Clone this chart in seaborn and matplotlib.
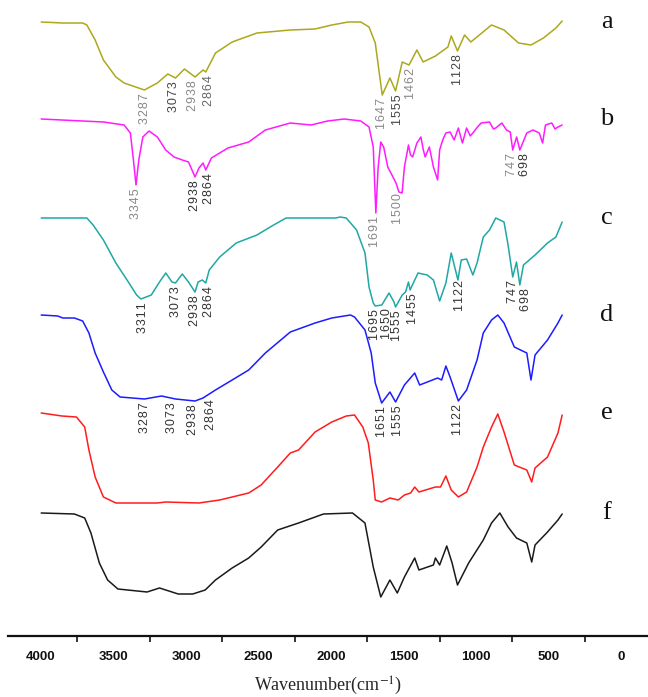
import matplotlib
matplotlib.use("Agg")
import matplotlib.pyplot as plt
import seaborn as sns
import pandas as pd
import numpy as np

# === FTIR spectra (wavenumber cm-1, transmittance a.u.) ===
wn_a = [3999, 3850, 3713, 3684, 3627, 3570, 3484, 3427, 3287, 3198, 3126, 3073, 3011, 2938, 2883, 2864,
        2797, 2682, 2511, 2281, 2110, 1995, 1881, 1795, 1738, 1695, 1647, 1594, 1555, 1509, 1462, 1408,
        1365, 1280, 1194, 1171, 1128, 1079, 1036, 893, 807, 707, 621, 535, 449, 406]
t_a = [614, 613, 613, 611, 596, 576, 559, 553, 546, 553, 562, 558, 567, 559, 566, 564,
       583, 594, 603, 606, 607, 611, 614, 614, 609, 593, 541, 558, 545, 574, 571, 586,
       574, 580, 589, 600, 585, 601, 594, 611, 606, 593, 591, 598, 608, 615]

wn_b = [3999, 3713, 3570, 3427, 3384, 3363, 3345, 3326, 3298, 3255, 3198, 3140, 3083, 3026, 2983, 2938,
        2911, 2883, 2864, 2825, 2711, 2568, 2453, 2281, 2138, 2024, 1909, 1795, 1738, 1709, 1691, 1675,
        1657, 1637, 1609, 1580, 1552, 1532, 1510, 1494, 1466, 1452, 1437, 1408, 1380, 1365, 1351, 1322,
        1294, 1265, 1251, 1230, 1208, 1179, 1151, 1122, 1094, 1065, 1040, 1022, 990, 965, 907, 880,
        864, 822, 790, 764, 747, 720, 698, 650, 607, 564, 541, 521, 478, 455, 435, 406]
t_b = [517, 515, 514, 511, 503, 476, 451, 476, 499, 505, 499, 486, 479, 476, 474, 459,
       468, 473, 466, 478, 488, 494, 506, 513, 511, 515, 517, 515, 509, 489, 423, 469,
       494, 489, 469, 461, 453, 444, 443, 469, 491, 481, 479, 493, 499, 487, 479, 489,
       469, 456, 486, 496, 503, 504, 496, 508, 493, 508, 500, 503, 509, 513, 514, 507,
       508, 513, 506, 504, 486, 499, 486, 503, 506, 503, 493, 511, 513, 507, 509, 511]

wn_c = [3999, 3684, 3641, 3570, 3484, 3398, 3341, 3311, 3240, 3183, 3140, 3097, 3073, 3026, 2983, 2938,
        2917, 2888, 2864, 2840, 2768, 2654, 2511, 2396, 2310, 1967, 1938, 1895, 1824, 1766, 1738, 1709,
        1695, 1650, 1600, 1566, 1555, 1509, 1486, 1466, 1455, 1400, 1337, 1294, 1251, 1208, 1171, 1125,
        1102, 1065, 1022, 993, 950, 907, 864, 807, 779, 747, 721, 698, 673, 593, 507, 449, 406]
t_c = [418, 418, 411, 396, 373, 354, 341, 337, 341, 354, 363, 354, 353, 362, 354, 344,
       354, 356, 353, 366, 379, 393, 401, 411, 418, 418, 419, 418, 406, 383, 349, 333,
       330, 331, 343, 334, 329, 341, 344, 354, 346, 363, 361, 356, 335, 353, 383, 356,
       376, 377, 361, 373, 399, 406, 418, 414, 391, 359, 374, 351, 371, 381, 393, 399, 414]

wn_d = [3999, 3885, 3850, 3770, 3713, 3670, 3627, 3570, 3512, 3455, 3287, 3169, 3073, 2938, 2883, 2797,
        2682, 2568, 2453, 2281, 2110, 1995, 1866, 1838, 1766, 1723, 1695, 1651, 1594, 1555, 1494, 1423,
        1389, 1265, 1237, 1208, 1179, 1122, 1065, 993, 950, 893, 850, 807, 736, 650, 621, 593, 507, 435, 406]
t_d = [321, 320, 318, 318, 315, 303, 283, 264, 246, 239, 237, 240, 237, 235, 238, 246,
       256, 266, 283, 304, 313, 318, 321, 319, 306, 283, 253, 233, 244, 234, 251, 263,
       251, 258, 256, 270, 259, 235, 246, 276, 303, 316, 321, 313, 289, 283, 256, 281, 296, 313, 321]

wn_e = [3999, 3856, 3756, 3699, 3670, 3627, 3570, 3484, 3198, 3140, 2911, 2768, 2568, 2482, 2368, 2281,
        2224, 2110, 1995, 1895, 1838, 1781, 1743, 1709, 1695, 1652, 1594, 1537, 1494, 1451, 1423, 1394,
        1280, 1245, 1208, 1171, 1122, 1065, 993, 950, 893, 850, 807, 736, 650, 616, 593, 507, 435, 406]
t_e = [223, 220, 219, 209, 186, 159, 139, 133, 133, 134, 133, 136, 143, 151, 169, 183,
       186, 204, 214, 220, 221, 209, 193, 156, 136, 134, 138, 136, 141, 143, 149, 144,
       149, 149, 160, 146, 139, 144, 169, 189, 209, 222, 204, 171, 166, 154, 168, 179, 203, 221]

wn_f = [3999, 3770, 3699, 3656, 3598, 3541, 3470, 3269, 3183, 3054, 2954, 2868, 2797, 2682, 2568, 2482,
        2368, 2224, 2052, 1852, 1766, 1709, 1657, 1594, 1543, 1494, 1423, 1394, 1294, 1280, 1251, 1202,
        1165, 1128, 1051, 950, 893, 836, 779, 721, 650, 616, 593, 507, 435, 406]
t_f = [123, 122, 118, 103, 73, 56, 47, 44, 48, 42, 42, 46, 56, 68, 78, 89,
       106, 113, 122, 123, 113, 69, 39, 56, 43, 59, 78, 66, 71, 78, 71, 90,
       73, 51, 73, 96, 113, 123, 109, 98, 93, 74, 91, 104, 116, 122]

# peak annotations: value, and where along x the text column sits
peaks_a = [3287, 3073, 2938, 2864, 1647, 1555, 1462, 1128]
text_x_a = [3283, 3083, 2954, 2840, 1652, 1537, 1451, 1122]
peaks_b = [3345, 2938, 2864, 1691, 1500, 747, 698]
text_x_b = [3346, 2940, 2840, 1695, 1537, 752, 660]
peaks_c = [3311, 3073, 2938, 2864, 1695, 1650, 1555, 1455, 1122, 747, 698]
text_x_c = [3298, 3069, 2940, 2840, 1695, 1617, 1543, 1437, 1114, 742, 656]
peaks_d = [3287, 3073, 2938, 2864, 1651, 1555, 1122]
text_x_d = [3283, 3097, 2954, 2831, 1646, 1537, 1122]

names = ["a", "b", "c", "d", "e", "f"]
colors = ["#aca81c", "#ff1aff", "#1fa8a4", "#1c1cff", "#ff1c1c", "#1a1a1a"]
spectra = [(wn_a, t_a), (wn_b, t_b), (wn_c, t_c), (wn_d, t_d), (wn_e, t_e), (wn_f, t_f)]
peak_sets = [(peaks_a, text_x_a), (peaks_b, text_x_b), (peaks_c, text_x_c),
             (peaks_d, text_x_d), ([], []), ([], [])]
peak_gray = {
    "a": ["#888", "#444", "#888", "#666", "#888", "#444", "#888", "#444"],
    "b": ["#888", "#333", "#333", "#888", "#888", "#888", "#333"],
}

sns.set_style("white")
plt.rcParams["mathtext.fontset"] = "stix"

fig = plt.figure(figsize=(6.48, 6.97), dpi=100)
ax = fig.add_axes([8 / 648, 61 / 697, 640 / 648, 636 / 697])

hs = "\u200a"
for name, col, (wn, t), (peaks, tx) in zip(names, colors, spectra, peak_sets):
    df = pd.DataFrame({"wn": wn, "t": t})
    sns.lineplot(data=df, x="wn", y="t", color=col, lw=1.1, sort=False,
                 estimator=None, ax=ax, legend=False)
    xs = np.array(wn[::-1], dtype=float)
    ys = np.array(t[::-1], dtype=float)
    grays = peak_gray.get(name, ["#333"] * len(peaks))
    for p, px, g in zip(peaks, tx, grays):
        ytop = min(np.interp(p, xs, ys), np.interp(px, xs, ys)) - 3
        ax.text(px, ytop, hs.join(str(p)), rotation=90, ha="center", va="top",
                fontsize=9, color=g, family=["Liberation Sans", "DejaVu Sans"])
    ax.text(100, t[0], name, ha="center", va="center", fontsize=19,
            family=["Liberation Serif", "DejaVu Serif"], color="#111")

ax.set_xlim(4228, -186)
ax.set_ylim(0, 636)
ax.set_xticks([4000, 3500, 3000, 2500, 2000, 1500, 1000, 500, 0])
ax.set_xticks([3750, 3250, 2750, 2250, 1750, 1250, 750, 250], minor=True)
ax.set_yticks([])
for s in ["top", "left", "right"]:
    ax.spines[s].set_visible(False)
ax.spines["bottom"].set_linewidth(1.6)
ax.spines["bottom"].set_color("#111")
ax.tick_params(axis="x", which="major", direction="out", length=6, width=1.2,
               colors="#111", pad=5)
ax.tick_params(axis="x", which="minor", direction="out", length=4, width=1.2,
               colors="#111", bottom=True)
for lbl in ax.get_xticklabels():
    lbl.set_fontweight("bold")
    lbl.set_fontsize(9.5)
    lbl.set_family(["Liberation Sans", "DejaVu Sans"])

ax.set_xlabel("Wavenumber(cm$^{-1}$)", fontsize=13, labelpad=8,
              family=["Liberation Serif", "DejaVu Serif"])
ax.set_ylabel("")

fig.savefig("out.png", dpi=100)
